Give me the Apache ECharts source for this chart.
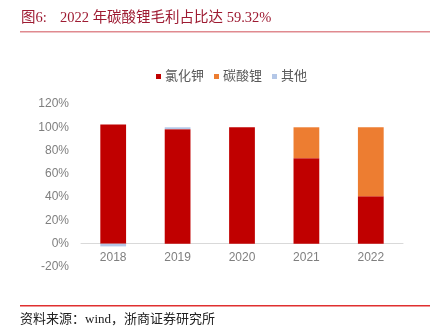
<!DOCTYPE html>
<html>
<head>
<meta charset="utf-8">
<script src="https://cdn.jsdelivr.net/npm/echarts@6/dist/echarts.min.js"></script>
<style>
  html, body { margin: 0; padding: 0; background: #fff; }
  #chart { width: 435px; height: 336px; }
</style>
</head>
<body>
<div id="chart"></div>
<script>
// Gross profit share by product, 2018-2022 (%)
var years = ['2018', '2019', '2020', '2021', '2022'];
var potassiumChloride = [102.3, 98.4, 100, 73.5, 40.68];
var lithiumCarbonate = [0, 0, 0, 26.5, 59.32];
var others = [-2.3, 1.6, 0, 0, 0];
var yTicks = { min: -20, max: 120, interval: 20 };

var seriesNames = ['氯化钾', '碳酸锂', '其他'];
var seriesColors = ['#C00000', '#ED7D31', '#B4C7E7'];
var seriesData = [potassiumChloride, lithiumCarbonate, others];

var chart = echarts.init(document.getElementById('chart'), null, { renderer: 'canvas' });

var serif = '"Liberation Serif", "Times New Roman", "Noto Sans CJK SC", serif';
var sans = 'Arial, "Liberation Sans", "Noto Sans CJK SC", sans-serif';

chart.setOption({
  animation: false,
  backgroundColor: '#fff',
  graphic: [
    {
      type: 'text', left: 21, top: 11,
      style: { text: '图6:', fill: '#9E1B32', font: '14.5px ' + serif }
    },
    {
      type: 'text', left: 60, top: 11,
      style: { text: '2022 年碳酸锂毛利占比达 59.32%', fill: '#9E1B32', font: '14.5px ' + serif }
    },
    {
      type: 'rect', shape: { x: 20, y: 31, width: 410, height: 1.5 },
      style: { fill: '#E08A8F' }
    },
    {
      type: 'rect', shape: { x: 20, y: 305, width: 410, height: 1.5 },
      style: { fill: '#E03030' }
    },
    {
      type: 'text', left: 20, top: 313,
      style: { text: '资料来源：wind，浙商证券研究所', fill: '#222', font: '13px ' + serif }
    }
  ],
  legend: {
    left: 151, top: 65,
    itemWidth: 5, itemHeight: 5, itemGap: 10,
    icon: 'rect',
    textStyle: { color: '#595959', fontSize: 13, fontFamily: sans, padding: [0, 0, 0, -1] },
    data: seriesNames
  },
  grid: { left: 81, right: 32, top: 104, bottom: 69 },
  xAxis: {
    type: 'category',
    data: years,
    axisLine: { onZero: true, lineStyle: { color: '#D9D9D9', width: 1 } },
    axisTick: { show: false },
    axisLabel: { color: '#7F7F7F', fontSize: 12, fontFamily: sans, margin: -15 }
  },
  yAxis: {
    type: 'value',
    min: yTicks.min, max: yTicks.max, interval: yTicks.interval,
    axisLine: { show: false },
    axisTick: { show: false },
    splitLine: { show: false },
    axisLabel: { color: '#7F7F7F', fontSize: 12, fontFamily: sans, margin: 12, formatter: '{value}%' }
  },
  series: seriesNames.map(function (name, i) {
    return {
      name: name,
      type: 'bar',
      stack: 'share',
      barWidth: '40%',
      itemStyle: { color: seriesColors[i] },
      data: seriesData[i]
    };
  })
});
</script>
</body>
</html>
